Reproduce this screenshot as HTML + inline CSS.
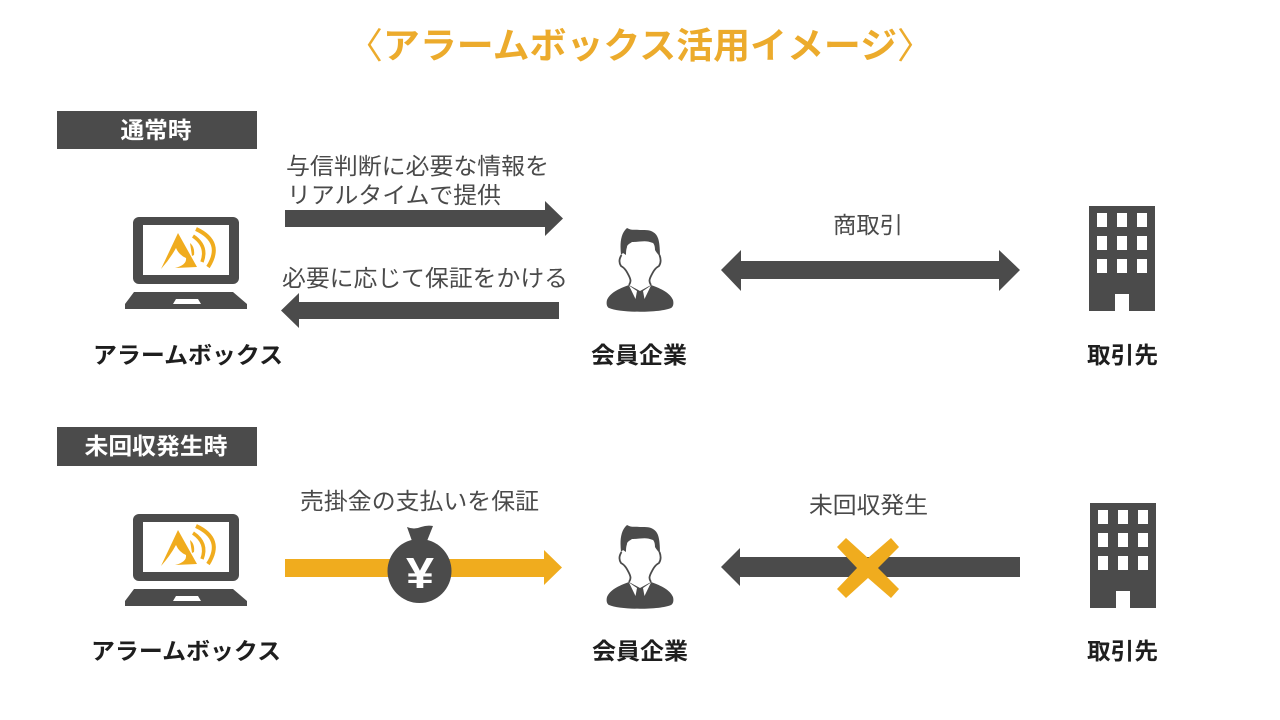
<!DOCTYPE html>
<html lang="ja">
<head>
<meta charset="utf-8">
<style>
html,body{margin:0;padding:0;background:#fff;width:1280px;height:720px;overflow:hidden}
svg{display:block}
text{font-family:"Liberation Sans","Noto Sans CJK JP",sans-serif;}
.b{font-weight:700;font-size:23px;fill:#1e1e1e}
.t{font-weight:400;font-size:23px;fill:#4a4a4a}
.h{font-weight:700;font-size:23px;fill:#fff}
</style>
</head>
<body>
<svg width="1280" height="720" viewBox="0 0 1280 720" xmlns="http://www.w3.org/2000/svg">
<defs>
<g id="laptop">
<rect x="133" y="217" width="106" height="67" rx="6" fill="#4b4b4b"/>
<rect x="143" y="225" width="86" height="50" fill="#fff"/>
<path d="M134 292H233L247 304V309H125V304Z" fill="#4b4b4b"/>
<path d="M176 299H198L201 304H173Z" fill="#fff"/>
<path d="M161 269L178 233L197 267L175 268Q187 265 186 258Q179 255 176 248Q170 259 161 269Z" fill="#f0ac1e"/>
<path d="M190 243Q195 247 194 255L192 256Z" fill="#f0ac1e"/>
<path d="M193 236Q208 246 202 262" fill="none" stroke="#f0ac1e" stroke-width="3.500"/>
<path d="M196 229Q224 242 208 267" fill="none" stroke="#f0ac1e" stroke-width="4"/>
</g>
<g id="person">
<path d="M607 300C610 293 618 289 629 285L640 291L651 285C662 289 670 293 673 300C674 304 673 307 671 308C660 313 620 313 609 308C607 307 606 304 607 300Z" fill="#4b4b4b"/>
<path d="M629 285.500L637 291L635.500 299Z M651 285.500L643 291L644.500 299Z" fill="#fff"/>
<path d="M621 255C620 245 620 234 627 228C632 231 636 229 640 230C647 230 650 230 653 232C658 235 660 240 660 257C658 254 656 252 655 250C655 246 654 244 653 243C648 241 645 241 640 241.500C636 242 634 242 632 242C629 244 627 245 627 247C626 250 626 252 626 255L623 253Z" fill="#4b4b4b"/>
<path d="M621.500 255C619 259 619 263 621 266C625 268 627 272 629 276C631 280 631 282 629 285M659.500 255C661 259 661 263 659 266C655 268 653 272 651 276C649 280 649 282 651 285" fill="none" stroke="#4b4b4b" stroke-width="1.800"/>
</g>
<g id="bldg">
<path fill-rule="evenodd" fill="#4b4b4b" d="M1089 206H1155V311H1129V294H1115V311H1089Z
M1097 213V227H1107V213Z M1117 213V227H1127V213Z M1137 213V227H1147V213Z
M1097 236V250H1107V236Z M1117 236V250H1127V236Z M1137 236V250H1147V236Z
M1097 259V273H1107V259Z M1117 259V273H1127V259Z M1137 259V273H1147V259Z"/>
</g>
</defs>

<text x="640" y="58" text-anchor="middle" textLength="588" lengthAdjust="spacingAndGlyphs" style="font-size:36px;font-weight:700" fill="#ecab2c"><tspan font-weight="400">〈</tspan>アラームボックス活用イメージ<tspan font-weight="400">〉</tspan></text>

<rect x="57" y="111" width="200" height="38" fill="#4b4b4b"/>
<text class="h" x="156" y="138" text-anchor="middle" textLength="71" lengthAdjust="spacingAndGlyphs">通常時</text>
<rect x="57" y="427" width="200" height="39" fill="#4b4b4b"/>
<text class="h" x="156" y="454" text-anchor="middle" textLength="143" lengthAdjust="spacingAndGlyphs">未回収発生時</text>

<use href="#laptop"/>
<use href="#person"/>
<use href="#bldg"/>
<use href="#laptop" y="297"/>
<use href="#person" y="297"/>
<use href="#bldg" x="1" y="297"/>

<text class="t" x="286" y="174" textLength="263" lengthAdjust="spacingAndGlyphs">与信判断に必要な情報を</text>
<text class="t" x="287" y="203" textLength="214" lengthAdjust="spacingAndGlyphs">リアルタイムで提供</text>
<path d="M285 210H545V201L563 218.500L545 236V227H285Z" fill="#4b4b4b"/>
<text class="t" x="282" y="286" textLength="286" lengthAdjust="spacingAndGlyphs">必要に応じて保証をかける</text>
<path d="M559 302H299V293L281 310.500L299 328V319H559Z" fill="#4b4b4b"/>

<text class="t" x="833" y="233" textLength="70" lengthAdjust="spacingAndGlyphs">商取引</text>
<path d="M721 270L741 250V261H999V250L1020 270L999 291V279H741V291Z" fill="#4b4b4b"/>

<text class="b" x="93" y="363" textLength="190" lengthAdjust="spacingAndGlyphs">アラームボックス</text>
<text class="b" x="591" y="363" textLength="96" lengthAdjust="spacingAndGlyphs">会員企業</text>
<text class="b" x="1087" y="363" textLength="71" lengthAdjust="spacingAndGlyphs">取引先</text>

<text class="t" x="300" y="509" textLength="239" lengthAdjust="spacingAndGlyphs">売掛金の支払いを保証</text>
<path d="M285 559H544V550L562 567.500L544 585V577H285Z" fill="#f0ac1e"/>
<circle cx="419.500" cy="571" r="32" fill="#4b4b4b"/>
<path d="M407 527Q414 530 421 527Q427 525 433 526L427 541H412Z" fill="#4b4b4b"/>
<text x="420" y="588" text-anchor="middle" textLength="28" lengthAdjust="spacingAndGlyphs" style="font-size:44px;font-weight:700" fill="#fff">¥</text>

<text class="t" x="809" y="513" textLength="119" lengthAdjust="spacingAndGlyphs">未回収発生</text>
<path d="M721 567L740 548V557H1020V577H740V586Z" fill="#4b4b4b"/>
<path d="M846 538L868 558L891 538L899 547L878 568L899 589L891 598L868 578L846 598L837 589L857 568L837 547Z" fill="#f0ac1e"/>

<text class="b" x="91" y="659" textLength="190" lengthAdjust="spacingAndGlyphs">アラームボックス</text>
<text class="b" x="592" y="659" textLength="96" lengthAdjust="spacingAndGlyphs">会員企業</text>
<text class="b" x="1087" y="659" textLength="71" lengthAdjust="spacingAndGlyphs">取引先</text>
</svg>
</body>
</html>
